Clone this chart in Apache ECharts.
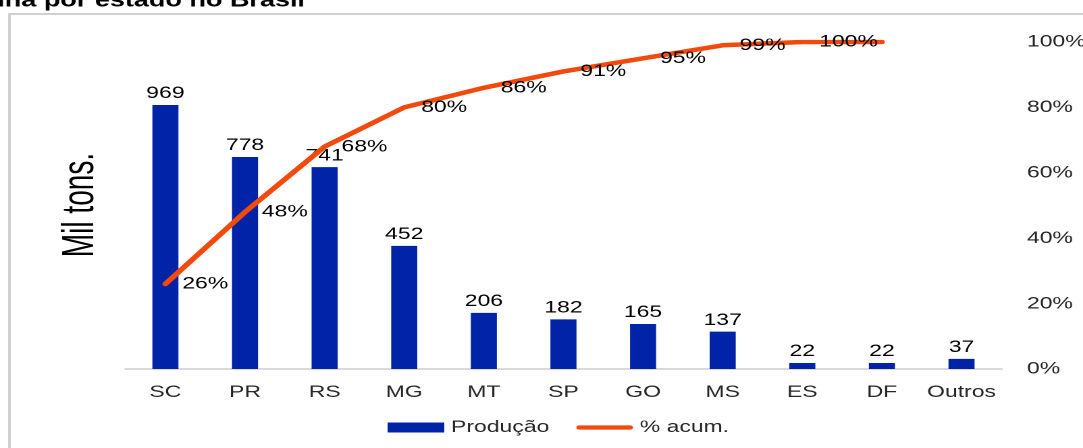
<!DOCTYPE html>
<html>
<head>
<meta charset="utf-8">
<script src="https://cdn.jsdelivr.net/npm/echarts@6/dist/echarts.min.js"></script>
<style>
  html, body { margin: 0; padding: 0; background: #ffffff; overflow: hidden; }
  #wrap { width: 1083px; height: 448px; overflow: hidden; position: relative; }
  #c { width: 802px; height: 448px; transform: scaleX(1.3504); transform-origin: 0 0; }
</style>
</head>
<body>
<div id="wrap"><div id="c"></div></div>
<script>
const titleText = 'ina por estado no Brasil';
const yAxisTitle = 'Mil tons.';
const categories = ['SC', 'PR', 'RS', 'MG', 'MT', 'SP', 'GO', 'MS', 'ES', 'DF', 'Outros'];
const producao = [969, 778, 741, 452, 206, 182, 165, 137, 22, 22, 37];
const acumulado = [26, 48, 68, 80, 86, 91, 95, 99, 100, 100, null];
const acumuladoLabels = ['26%', '48%', '68%', '80%', '86%', '91%', '95%', '99%', '100%', '', ''];
const seriesNames = ['Produção', '% acum.'];

const FONT = 'Liberation Sans, Arial, sans-serif';
const LINE_COLOR = '#f2490c';
const BAR_COLOR = '#0023a8';
const lineIcon = 'path://M0,0 L0.01,0 Z M0,10 L0.01,10 Z M2.25,2.75 L41.75,2.75 A2.25,2.25 0 0 1 41.75,7.25 L2.25,7.25 A2.25,2.25 0 0 1 2.25,2.75 Z M44,0 L43.99,0 Z';

const chart = echarts.init(document.getElementById('c'), null, { renderer: 'canvas', devicePixelRatio: 2 });

chart.setOption({
  backgroundColor: '#ffffff',
  animation: false,
  textStyle: { fontFamily: FONT },
  graphic: [
    {
      type: 'rect', silent: true, z: -1,
      shape: { x: 7, y: 14, width: 1200, height: 1200 },
      style: { fill: 'none', stroke: '#d0d0d0', lineWidth: 2 }
    },
    {
      type: 'text', silent: true, x: -2, y: 1,
      style: { text: titleText, font: 'bold 20px ' + FONT, fill: '#000', textAlign: 'left', textVerticalAlign: 'middle' }
    },
    {
      type: 'text', silent: true, x: 60, y: 205, rotation: Math.PI / 2, scaleX: 0.85,
      style: { text: yAxisTitle, font: '33px ' + FONT, fill: '#000', textAlign: 'center', textVerticalAlign: 'middle' }
    }
  ],
  legend: {
    data: [
      { name: seriesNames[0], icon: 'rect' },
      { name: seriesNames[1], icon: lineIcon }
    ],
    left: 282,
    top: 414,
    itemWidth: 42,
    itemHeight: 10,
    itemGap: 20,
    textStyle: { fontFamily: FONT, fontSize: 17, color: '#262626' }
  },
  grid: { left: 93, right: 60.5, top: 42, bottom: 79, containLabel: false, outerBoundsMode: 'none' },
  xAxis: {
    type: 'category',
    data: categories,
    axisLine: { lineStyle: { color: '#d9d9d9', width: 2 } },
    axisTick: { show: false },
    axisLabel: { color: '#262626', fontSize: 17, fontFamily: FONT, margin: 15, interval: 0 }
  },
  yAxis: [
    { type: 'value', min: 0, max: 1200, show: false, splitLine: { show: false } },
    {
      type: 'value', position: 'right', min: 0, max: 100, interval: 20,
      axisLine: { show: false }, axisTick: { show: false }, splitLine: { show: false },
      axisLabel: { formatter: '{value}%', color: '#262626', fontSize: 17, fontFamily: FONT, margin: 19 }
    }
  ],
  series: [
    {
      name: seriesNames[0],
      type: 'bar',
      yAxisIndex: 0,
      data: producao,
      barWidth: 19.3,
      itemStyle: { color: BAR_COLOR },
      label: { show: true, position: 'top', distance: 3, color: '#000', fontSize: 17, fontFamily: FONT }
    },
    {
      name: seriesNames[1],
      type: 'line',
      yAxisIndex: 1,
      data: acumulado,
      symbol: 'circle',
      symbolSize: 1,
      showSymbol: true,
      showAllSymbol: true,
      lineStyle: { color: LINE_COLOR, width: 4.5, cap: 'round', join: 'round' },
      itemStyle: { color: LINE_COLOR },
      label: {
        show: true, position: 'right', distance: 12, color: '#000', fontSize: 17, fontFamily: FONT,
        formatter: p => acumuladoLabels[p.dataIndex]
      }
    }
  ]
});
</script>
</body>
</html>
